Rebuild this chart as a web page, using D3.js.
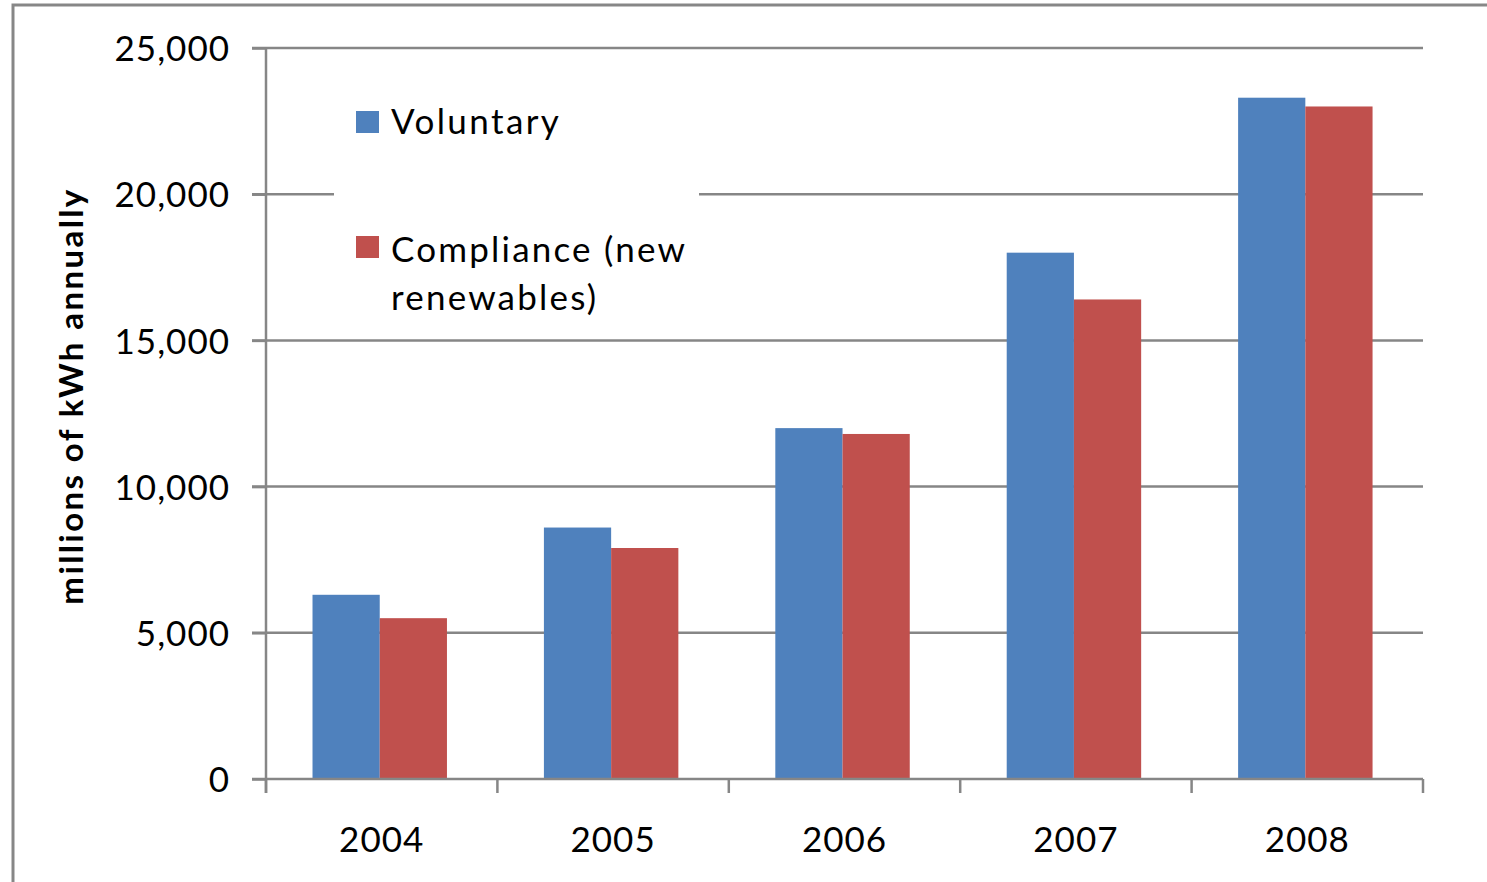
<!DOCTYPE html>
<html>
<head>
<meta charset="utf-8">
<script src="https://cdn.jsdelivr.net/npm/d3@7"></script>
<style>
  html, body { margin: 0; padding: 0; background: #fff; }
  svg { display: block; }
  text { font-family: Lato, "Open Sans", sans-serif; fill: #000; }
</style>
</head>
<body>
<svg id="chart" width="1487" height="882"></svg>
<script>
const years = ["2004", "2005", "2006", "2007", "2008"];
const seriesNames = ["Voluntary", "Compliance (new renewables)"];
const voluntary = [6300, 8600, 12000, 18000, 23300];
const compliance = [5500, 7900, 11800, 16400, 23000];
const yTicks = [0, 5000, 10000, 15000, 20000, 25000];
const colors = ["#4F81BD", "#C0504D"];

const svg = d3.select("#chart");
const pLeft = 266, pRight = 1423, pTop = 48, pBottom = 779;

// outer border
svg.append("rect").attr("x", 13).attr("y", 5).attr("width", 1500).attr("height", 900)
  .attr("fill", "#fff").attr("stroke", "#878787").attr("stroke-width", 3);

const x0 = d3.scaleBand().domain(years).range([pLeft, pRight]).paddingInner(0).paddingOuter(0);
const bw = x0.bandwidth();
const x1 = d3.scaleBand().domain(seriesNames).range([bw * 0.201, bw * 0.782]).padding(0);
const y = d3.scaleLinear().domain([0, 25000]).range([pBottom, pTop]);

// gridlines
const grid = svg.append("g");
grid.selectAll("line").data(yTicks.filter(d => d > 0)).join("line")
  .attr("x1", pLeft - 14).attr("x2", pRight)
  .attr("y1", d => y(d)).attr("y2", d => y(d))
  .attr("stroke", "#868686").attr("stroke-width", 2.5);

// bars
const data = years.map((yr, i) => ({ year: yr, vals: [voluntary[i], compliance[i]] }));
const groups = svg.append("g").selectAll("g").data(data).join("g")
  .attr("transform", d => `translate(${x0(d.year)},0)`);
groups.selectAll("rect").data(d => d.vals.map((v, j) => ({ v, s: seriesNames[j], c: colors[j] })))
  .join("rect")
  .attr("x", d => x1(d.s))
  .attr("width", x1.bandwidth())
  .attr("y", d => y(d.v))
  .attr("height", d => y(0) - y(d.v))
  .attr("fill", d => d.c);

// legend box
const lg = svg.append("g");
lg.append("rect").attr("x", 334).attr("y", 62).attr("width", 365).attr("height", 268).attr("fill", "#fff");
lg.append("rect").attr("x", 356).attr("y", 111).attr("width", 23).attr("height", 22).attr("fill", colors[0]);
lg.append("rect").attr("x", 356).attr("y", 236).attr("width", 23).attr("height", 22).attr("fill", colors[1]);
lg.append("text").attr("x", 391).attr("y", 134).attr("font-size", 35).attr("letter-spacing", 2.4).text("Voluntary");
const t2 = lg.append("text").attr("font-size", 35).attr("letter-spacing", 2.2);
t2.append("tspan").attr("x", 391).attr("y", 262).text("Compliance (new");
t2.append("tspan").attr("x", 391).attr("y", 310).text("renewables)");

// y axis
const yAxis = d3.axisLeft(y).tickValues(yTicks).tickSize(14).tickPadding(22)
  .tickFormat(d3.format(","));
const ya = svg.append("g").attr("transform", `translate(${pLeft},0)`).call(yAxis);
ya.select(".domain").attr("stroke", "#868686").attr("stroke-width", 2.5)
  .attr("d", `M0,${pTop}V${pBottom + 14}`);
ya.selectAll(".tick line").attr("stroke", "#868686").attr("stroke-width", 2.5);
ya.selectAll(".tick text").attr("font-size", 35).attr("font-family", "Lato, sans-serif")
  .attr("letter-spacing", 1).attr("fill", "#000").attr("dy", "0.36em");

// x axis
const xAxis = d3.axisBottom(x0).tickSize(0).tickPadding(48);
const xa = svg.append("g").attr("transform", `translate(0,${pBottom})`).call(xAxis);
xa.select(".domain").attr("stroke", "#868686").attr("stroke-width", 2.5).attr("d", `M${pLeft - 14},0H${pRight}`);
xa.selectAll(".tick text").attr("font-size", 35).attr("font-family", "Lato, sans-serif")
  .attr("letter-spacing", 1).attr("fill", "#000");
// category boundary ticks
const bounds = years.map(d => x0(d)).concat([pRight]);
xa.selectAll(".bnd").data(bounds).join("line").attr("class", "bnd")
  .attr("x1", d => d).attr("x2", d => d).attr("y1", 0).attr("y2", 14)
  .attr("stroke", "#868686").attr("stroke-width", 2.5);

// y axis title
svg.append("text")
  .attr("transform", `translate(83,${396}) rotate(-90)`)
  .attr("text-anchor", "middle").attr("font-size", 33).attr("font-weight", "bold")
  .attr("letter-spacing", 2.4)
  .text("millions of kWh annually");
</script>
</body>
</html>
